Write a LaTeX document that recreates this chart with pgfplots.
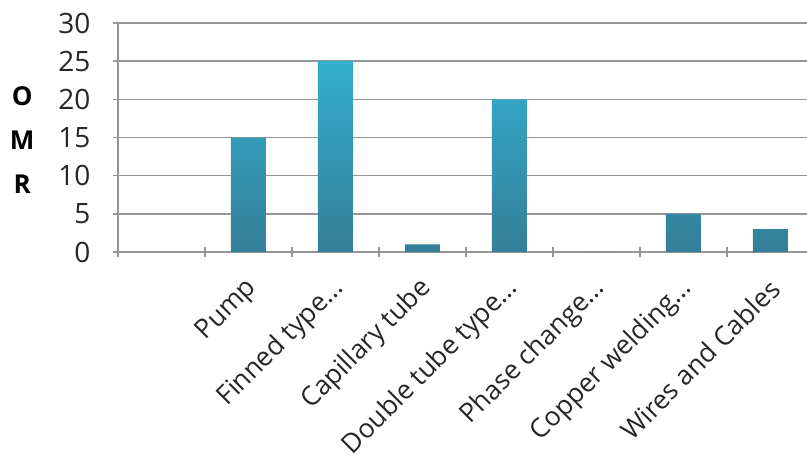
\documentclass[border=0pt]{standalone}
\usepackage{pgfplots}
\pgfplotsset{compat=1.18}
\usepackage{fontspec}
\setmainfont{Open Sans}
\definecolor{bartop}{RGB}{51,174,206}
\definecolor{barbot}{RGB}{52,127,152}
\definecolor{gridgray}{RGB}{150,150,150}

\begin{document}
\begin{tikzpicture}
\useasboundingbox (-118pt,-207pt) rectangle (689pt,252pt);
\begin{axis}[
    at={(0pt,0pt)}, anchor=south west,
    scale only axis,
    width=689pt, height=229pt,
    xmin=-0.5, xmax=7.42,
    ymin=0, ymax=30,
    ytick={0,5,10,15,20,25,30},
    xtick={-1,0,1,2,3,4,5,6,7,8},
    xticklabels={{},{},{Pump},{Finned type{.}{.}{.}},{Capillary tube},{Double tube type{.}{.}{.}},{Phase change{.}{.}{.}},{Copper welding{.}{.}{.}},{Wires and Cables},{}},
    minor x tick num=1,
    major x tick style={draw=none},
    tick align=outside,
    major tick length=10pt,
    minor tick length=10pt,
    tick style={color=gridgray, line width=1.5pt},
    axis lines=left,
    axis line style={-, color=gridgray, line width=1.5pt},
    ymajorgrids,
    major grid style={color=gridgray, line width=1.5pt},
    /pgf/number format/assume math mode=true,
    ticklabel style={text=black!85},
    yticklabel style={font=\fontsize{28}{33}\selectfont, xshift=-19pt},
    xticklabel style={font=\fontsize{26.5}{31}\selectfont, xshift=7pt, yshift=-25pt, rotate=45, anchor=east},
    ylabel={\textbf{O}\\[9pt]\textbf{M}\\[9pt]\textbf{R}},
    ylabel style={rotate=-90, align=center, font=\fontsize{26}{35}\selectfont, at={(axis description cs:-0.139,0.487)}, anchor=center},
    clip=false,
]
\addplot[ybar, bar width=35pt, draw=none, top color=bartop, bottom color=barbot]
    coordinates {(1,15) (2,25) (3,1) (4,20) (5,0) (6,5) (7,3)};
\end{axis}
\end{tikzpicture}
\end{document}
